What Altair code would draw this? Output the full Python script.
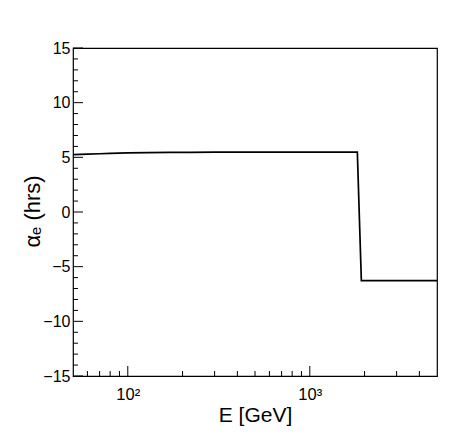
import altair as alt
import pandas as pd

# Curve values
energy = [50, 60, 70, 80, 100, 130, 170, 220, 300, 500, 800, 1200, 1825, 1920, 5000]
alpha = [5.25, 5.30, 5.33, 5.36, 5.40, 5.43, 5.45, 5.46, 5.47, 5.47, 5.47, 5.47, 5.47, -6.27, -6.27]

# Axis ticks
y_major = [-15, -10, -5, 0, 5, 10, 15]
y_minor = [v for v in range(-15, 16) if v % 5 != 0]
x_major = [100, 1000]
x_minor = [60, 70, 80, 90, 200, 300, 400, 500, 600, 700, 800, 900, 2000, 3000, 4000]

W, H = 364, 328
FONT = "Liberation Sans"

xscale = alt.Scale(type="log", domain=[50, 5000], nice=False)
yscale = alt.Scale(domain=[-15, 15], nice=False, zero=False)

x_axis = alt.Axis(
    values=x_major, ticks=False, tickSize=0, grid=False, domain=False,
    labelExpr="datum.value == 100 ? '10²' : '10³'",
    labelFont=FONT, labelFontSize=16.5, labelColor="black", labelPadding=10,
    labelBaseline="top",
    title="E [GeV]", titleFont=FONT, titleFontSize=21, titleFontWeight="normal",
    titleColor="black", titleX=W / 2, titleY=45, titleBaseline="alphabetic", titleAlign="center")
y_axis = alt.Axis(
    values=y_major, ticks=False, tickSize=0, grid=False, domain=False,
    labelFont=FONT, labelFontSize=16, labelColor="black", labelPadding=3,
    title="αₑ (hrs)", titleFont=FONT, titleFontSize=22, titleFontWeight="normal",
    titleColor="black", titleX=-41, titleY=163, titleBaseline="middle", titleAlign="center")

df = pd.DataFrame({"E": energy, "a": alpha})

line = alt.Chart(df).mark_line(color="black", strokeWidth=1.7).encode(
    x=alt.X("E:Q", scale=xscale, axis=x_axis),
    y=alt.Y("a:Q", scale=yscale, axis=y_axis),
)

def yticks(vals, length):
    return alt.Chart(pd.DataFrame({"v": vals})).mark_rule(color="black", strokeWidth=1).encode(
        y=alt.Y("v:Q", scale=yscale, axis=y_axis),
        x=alt.value(0), x2=alt.value(length))

def xticks(vals, length):
    return alt.Chart(pd.DataFrame({"v": vals})).mark_rule(color="black", strokeWidth=1).encode(
        x=alt.X("v:Q", scale=xscale, axis=x_axis),
        y=alt.value(H), y2=alt.value(H - length))

chart = alt.layer(
    line,
    yticks(y_major, 10), yticks(y_minor, 5),
    xticks(x_major, 10), xticks(x_minor, 5),
).properties(
    width=W, height=H,
    autosize=alt.AutoSizeParams(type="none"),
    padding={"left": 65, "top": 40, "right": 15, "bottom": 50},
    background="white",
).configure_view(stroke="black", strokeWidth=1.2)

chart.save("out.html", embed_options={"renderer": "svg", "actions": False})
